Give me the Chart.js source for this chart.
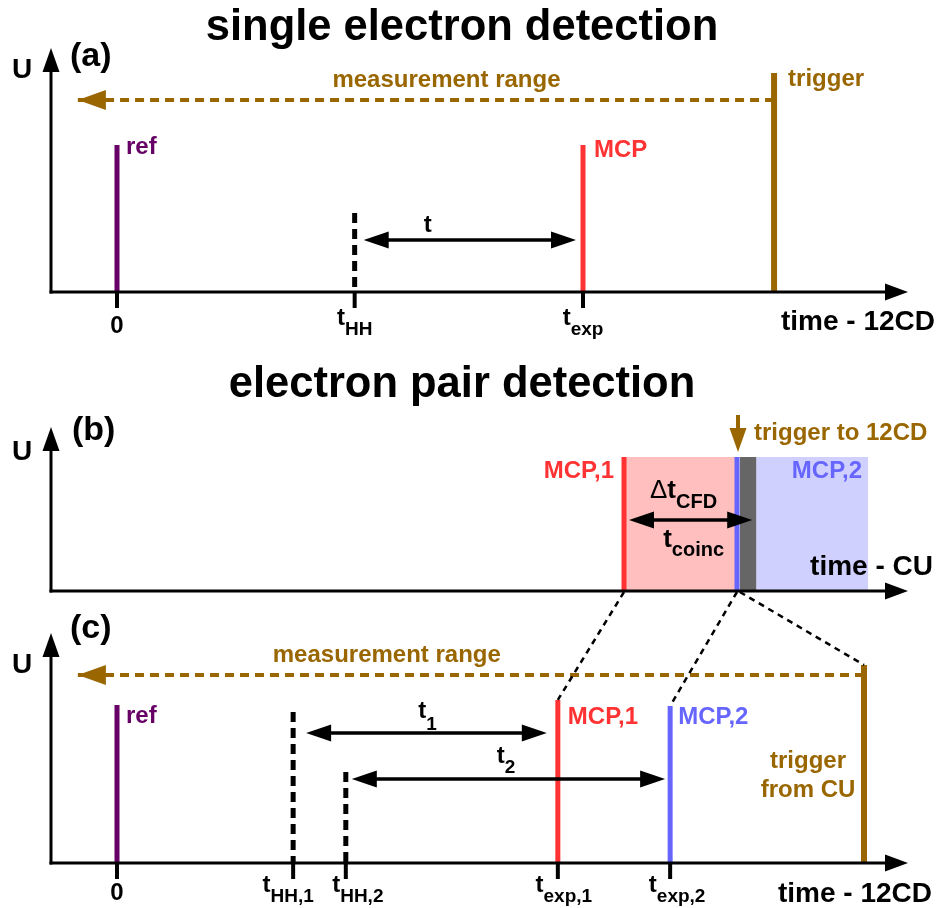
<!DOCTYPE html>
<html>
<head>
<meta charset="utf-8">
<script src="https://cdn.jsdelivr.net/npm/chart.js@4.4.1/dist/chart.umd.min.js"></script>
<style>
  html, body { margin: 0; padding: 0; background: #fff; }
</style>
</head>
<body>
<canvas id="timing" width="940" height="908"></canvas>
<script>
// (a) single electron - 12CD time (arb. units, ref = 0), U normalised to the axis height
const aNames = ['ref', 'hh', 'mcp', 'trigger'];
const aTimes = [0, 51, 100, 141];
const aHeights = [0.602, 0.324, 0.602, 0.898];
const aRange = [141, -8.4];          // measurement range: trigger -> start
const aRangeLevel = 0.787;
const aArrowLevel = 0.213;           // t
const aTicks = [0, 51, 100];
const aTickLabels = [['0', ''], ['t', 'HH'], ['t', 'exp']];

// (b) electron pair - CU time (MCP,1 = 0)
const bNames = ['mcp1', 'mcp2'];
const bTimes = [0, 20];
const bHeight = 0.817;
const bCoinc = [0, 20];              // coincidence window
const bDead = [20.5, 23.4];
const bWindow2 = [23.4, 43.2];
const bArrowLevel = 0.433;

// (c) electron pair - 12CD time
const cNames = ['ref', 'hh1', 'hh2', 'mcp1', 'mcp2', 'trigger'];
const cTimes = [0, 37.8, 49.1, 94.6, 118.7, 160.3];
const cHeights = [0.687, 0.657, 0.396, 0.709, 0.683, 0.861];
const cRange = [160.3, -8.4];
const cRangeLevel = 0.817;
const cArrowLevels = [0.565, 0.365]; // t1, t2
const cTicks = [0, 37.8, 49.1, 94.6, 118.7];
const cTickLabels = [['0', ''], ['t', 'HH,1'], ['t', 'HH,2'], ['t', 'exp,1'], ['t', 'exp,2']];

const BLACK = '#000000', PURPLE = '#660066', RED = '#ff3333', GOLD = '#996600', BLUE = '#6666ff';
const colors = { ref: PURPLE, hh: BLACK, hh1: BLACK, hh2: BLACK, mcp: RED, mcp1: RED, mcp2: BLUE, trigger: GOLD };
const FONT = '"Liberation Sans", Arial, sans-serif';

const W = 940, H = 908;
const AX_L = 51, AX_R = 908;

// min/max so that two values land on two pixel positions of the full canvas
function fit(v0, p0, v1, p1, size, vertical) {
    const k = (p1 - p0) / (v1 - v0);
    const at = p => v0 + (p - p0) / k;
    return vertical ? { min: at(size), max: at(0) } : { min: at(0), max: at(size) };
}

function pulses(names, times, heights, xID, yID) {
    return names.map((n, i) => {
        const dashed = n.startsWith('hh');
        const top = { x: times[i], y: heights[i] };
        const foot = { x: times[i], y: 0 };
        return {
            label: n,
            xAxisID: xID,
            yAxisID: yID,
            data: dashed ? [top, foot] : [foot, top],
            showLine: true,
            pointRadius: 0,
            borderColor: colors[n],
            borderWidth: n === 'trigger' ? 6 : 5,
            borderDash: dashed ? [10, 6] : [],
            borderCapStyle: 'butt'
        };
    });
}

function rangeLine(range, level, yID) {
    return {
        label: 'measurement range',
        xAxisID: 'x',
        yAxisID: yID,
        data: [{ x: range[0], y: level }, { x: range[1], y: level }],
        showLine: true,
        pointRadius: 0,
        borderColor: GOLD,
        borderWidth: 4,
        borderDash: [9, 6],
        borderCapStyle: 'butt'
    };
}

const datasets = [
    rangeLine(aRange, aRangeLevel, 'ya'),
    rangeLine(cRange, cRangeLevel, 'yc'),
    ...pulses(aNames, aTimes, aHeights, 'x', 'ya'),
    ...pulses(bNames, bTimes, bNames.map(() => bHeight), 'xcu', 'yb'),
    ...pulses(cNames, cTimes, cHeights, 'x', 'yc')
];

// ---- drawing helpers ----
function font(px, weight) { return (weight || 'bold') + ' ' + px + 'px ' + FONT; }

function text(ctx, s, x, y, px, color, align, weight) {
    ctx.font = font(px, weight);
    ctx.fillStyle = color;
    ctx.textAlign = align || 'left';
    ctx.textBaseline = 'alphabetic';
    ctx.fillText(s, x, y);
}

function subText(ctx, main, sub, x, y, color, align, size, subSize, drop) {
    size = size || 24; subSize = subSize || 19; drop = drop || 10;
    ctx.font = font(size);
    const w1 = ctx.measureText(main).width;
    ctx.font = font(subSize);
    const w2 = ctx.measureText(sub).width;
    let left = x;
    if (align === 'center') left = x - (w1 + w2) / 2;
    if (align === 'right') left = x - (w1 + w2);
    text(ctx, main, left, y, size, color);
    text(ctx, sub, left + w1, y + drop, subSize, color);
}

function seg(ctx, x1, y1, x2, y2, w, color, dash) {
    ctx.save();
    ctx.beginPath();
    ctx.setLineDash(dash || []);
    ctx.lineWidth = w;
    ctx.strokeStyle = color;
    ctx.moveTo(x1, y1);
    ctx.lineTo(x2, y2);
    ctx.stroke();
    ctx.restore();
}

function head(ctx, x, y, angle, len, half, color) {
    ctx.save();
    ctx.translate(x, y);
    ctx.rotate(angle);
    ctx.beginPath();
    ctx.moveTo(0, 0);
    ctx.lineTo(-len, -half);
    ctx.lineTo(-len, half);
    ctx.closePath();
    ctx.fillStyle = color || BLACK;
    ctx.fill();
    ctx.restore();
}

function dblArrow(ctx, x1, x2, y) {
    seg(ctx, x1 + 20, y, x2 - 20, y, 3.5, BLACK);
    head(ctx, x1, y, Math.PI, 25, 8.5);
    head(ctx, x2, y, 0, 25, 8.5);
}

function axes(ctx, yScale) {
    const y0 = yScale.getPixelForValue(0);
    const tip = yScale.getPixelForValue(1);
    seg(ctx, AX_L, y0 + 1.5, AX_L, tip + 20, 3, BLACK);
    head(ctx, AX_L, tip, -Math.PI / 2, 24, 8.5);
    seg(ctx, AX_L - 1.5, y0, AX_R - 18, y0, 3, BLACK);
    head(ctx, AX_R, y0, 0, 23, 8.5);
    return { y0, tip };
}

// labels with a comma in the subscript sit a bit off their tick in the original
const tickShift = { 'HH,1': -5, 'HH,2': 12, 'exp,1': 6, 'exp,2': 7 };

function ticks(ctx, xs, values, labels, y0, labelDy) {
    values.forEach((v, i) => {
        const px = xs.getPixelForValue(v);
        seg(ctx, px, y0, px, y0 + 16, 4, BLACK);
        const [main, sub] = labels[i];
        if (sub) subText(ctx, main, sub, px + (tickShift[sub] || 0), y0 + labelDy, BLACK, 'center');
        else text(ctx, main, px, y0 + labelDy + 8, 24, BLACK, 'center');
    });
}

const diagram = {
    id: 'diagram',
    beforeDatasetsDraw(chart) {
        const ctx = chart.ctx;
        const xcu = chart.scales.xcu, yb = chart.scales.yb;
        const y0 = yb.getPixelForValue(0), yt = yb.getPixelForValue(bHeight);
        const box = (r, color) => {
            const l = xcu.getPixelForValue(r[0]), rr = xcu.getPixelForValue(r[1]);
            ctx.fillStyle = color;
            ctx.fillRect(l, yt, rr - l, y0 - yt);
        };
        box(bCoinc, '#ffbfbf');
        box(bWindow2, '#d0d0ff');
        box(bDead, '#666666');
    },
    afterDatasetsDraw(chart) {
        const ctx = chart.ctx;
        const { x, xcu, ya, yb, yc } = chart.scales;

        // ---------- (a) ----------
        text(ctx, 'single electron detection', 462, 40, 43.5, BLACK, 'center');
        const A = axes(ctx, ya);
        text(ctx, 'U', 22, 78, 28, BLACK, 'center');
        text(ctx, '(a)', 70, 66, 34, BLACK);
        const aRy = ya.getPixelForValue(aRangeLevel);
        head(ctx, x.getPixelForValue(aRange[1]), aRy, Math.PI, 28, 10, GOLD);
        text(ctx, 'measurement range', x.getPixelForValue(70.7), aRy - 13, 24, GOLD, 'center');
        const aTop = i => ya.getPixelForValue(aHeights[i]);
        text(ctx, 'ref', x.getPixelForValue(aTimes[0]) + 9, aTop(0) + 9, 24, PURPLE);
        text(ctx, 'MCP', x.getPixelForValue(aTimes[2]) + 11, aTop(2) + 12, 24, RED);
        text(ctx, 'trigger', x.getPixelForValue(aTimes[3]) + 14, aTop(3) + 13, 24, GOLD);
        const aAy = ya.getPixelForValue(aArrowLevel);
        dblArrow(ctx, x.getPixelForValue(aTimes[1]) + 9, x.getPixelForValue(aTimes[2]) - 7, aAy);
        text(ctx, 't', x.getPixelForValue(66.7), aAy - 8, 24, BLACK, 'center');
        ticks(ctx, x, aTicks, aTickLabels, A.y0, 33);
        text(ctx, 'time - 12CD', 935, A.y0 + 38, 28, BLACK, 'right');

        // ---------- (b) ----------
        text(ctx, 'electron pair detection', 462, 397, 43.5, BLACK, 'center');
        const B = axes(ctx, yb);
        text(ctx, 'U', 22, 460, 28, BLACK, 'center');
        text(ctx, '(b)', 72, 440, 34, BLACK);
        const bTop = yb.getPixelForValue(bHeight);
        text(ctx, 'MCP,1', xcu.getPixelForValue(bTimes[0]) - 10, bTop + 21, 24, RED, 'right');
        text(ctx, 'MCP,2', xcu.getPixelForValue(bWindow2[1]) - 6, bTop + 21, 24, BLUE, 'right');
        const trigX = xcu.getPixelForValue(bTimes[1]) + 1;
        seg(ctx, trigX, bTop - 42, trigX, bTop - 25, 4, GOLD);
        head(ctx, trigX, bTop - 5, Math.PI / 2, 24, 8.5, GOLD);
        text(ctx, 'trigger to 12CD', trigX + 16, bTop - 17, 24, GOLD);
        const bAy = yb.getPixelForValue(bArrowLevel);
        const bL = xcu.getPixelForValue(bCoinc[0]) + 5, bR = xcu.getPixelForValue(bDead[1]) - 4;
        dblArrow(ctx, bL, bR, bAy);
        // Δ is set in the regular weight, the rest bold
        const dLeft = 650;
        text(ctx, '\u0394', dLeft, bAy - 22, 26, BLACK, 'left', 'normal');
        ctx.font = font(26, 'normal');
        subText(ctx, 't', 'CFD', dLeft + ctx.measureText('\u0394').width, bAy - 22, BLACK, 'left', 26, 20, 10);
        subText(ctx, 't', 'coinc', (bL + bR) / 2 + 3, bAy + 27, BLACK, 'center', 26, 20, 9);
        text(ctx, 'time - CU', 933, B.y0 - 16, 28, BLACK, 'right');

        // ---------- (c) ----------
        const C = axes(ctx, yc);
        text(ctx, 'U', 22, 673, 28, BLACK, 'center');
        text(ctx, '(c)', 70, 638, 34, BLACK);
        const cRy = yc.getPixelForValue(cRangeLevel);
        head(ctx, x.getPixelForValue(cRange[1]), cRy, Math.PI, 28, 10, GOLD);
        text(ctx, 'measurement range', x.getPixelForValue(57.9), cRy - 13, 24, GOLD, 'center');
        const cX = i => x.getPixelForValue(cTimes[i]);
        const cTop = i => yc.getPixelForValue(cHeights[i]);
        text(ctx, 'ref', cX(0) + 9, cTop(0) + 18, 24, PURPLE);
        text(ctx, 'MCP,1', cX(3) + 10, cTop(3) + 24, 24, RED);
        text(ctx, 'MCP,2', cX(4) + 8, cTop(4) + 18, 24, BLUE);
        text(ctx, 'trigger', cX(5) - 56, 768, 24, GOLD, 'center');
        text(ctx, 'from CU', cX(5) - 56, 797, 24, GOLD, 'center');
        const t1y = yc.getPixelForValue(cArrowLevels[0]);
        const t2y = yc.getPixelForValue(cArrowLevels[1]);
        dblArrow(ctx, cX(1) + 13, cX(3) - 11, t1y);
        dblArrow(ctx, cX(2) + 6, cX(4) - 5, t2y);
        subText(ctx, 't', '1', (cX(1) + cX(3)) / 2 + 2, t1y - 15, BLACK, 'center', 24, 19, 12);
        subText(ctx, 't', '2', (cX(2) + cX(4)) / 2 - 2, t2y - 16, BLACK, 'center', 24, 19, 10);
        ticks(ctx, x, cTicks, cTickLabels, C.y0, 29);
        text(ctx, 'time - 12CD', 932, C.y0 + 39, 28, BLACK, 'right');

        // zoom lines from the CU picture down to the 12CD picture
        const dot = (vcu, i) => seg(ctx, xcu.getPixelForValue(vcu), B.y0 + 1, cX(i), cTop(i), 2.5, BLACK, [6, 5]);
        dot(bTimes[0], 3);
        dot(bTimes[1], 4);
        dot(bDead[0], 5);
    }
};

new Chart(document.getElementById('timing'), {
    type: 'scatter',
    data: { datasets },
    options: {
        responsive: false,
        animation: false,
        events: [],
        layout: { padding: 0 },
        plugins: { legend: { display: false }, tooltip: { enabled: false } },
        scales: {
            x: { type: 'linear', axis: 'x', display: false, bounds: 'data', ...fit(0, 117, 100, 583, W) },
            xcu: { type: 'linear', axis: 'x', display: false, bounds: 'data', ...fit(0, 624, 20, 737, W) },
            y: { type: 'linear', display: false },
            ya: { type: 'linear', axis: 'y', display: false, bounds: 'data', ...fit(0, 292, 1, 48, H, true) },
            yb: { type: 'linear', axis: 'y', display: false, bounds: 'data', ...fit(0, 591, 1, 427, H, true) },
            yc: { type: 'linear', axis: 'y', display: false, bounds: 'data', ...fit(0, 863, 1, 633, H, true) }
        }
    },
    plugins: [diagram]
});
</script>
</body>
</html>
